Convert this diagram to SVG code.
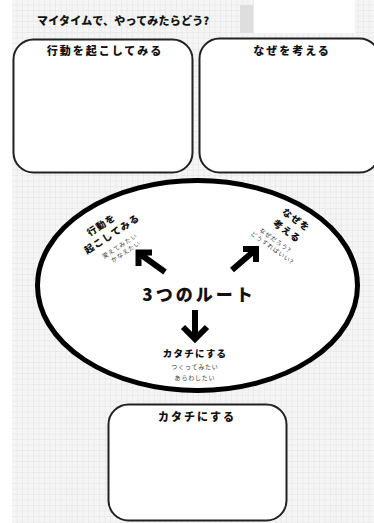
<svg xmlns="http://www.w3.org/2000/svg" width="374" height="523" viewBox="0 0 374 523">
  <defs>
    <pattern id="grid" x="12" y="0" width="5.5" height="5.5" patternUnits="userSpaceOnUse">
      <rect width="5.5" height="5.5" fill="#f5f5f5"/>
      <path d="M5.5 0V5.5M0 5.5H5.5" stroke="#e0e0e0" stroke-width="0.8" fill="none"/>
    </pattern>
    <style>
      .jp { font-family: "Noto Sans CJK JP", "Noto Sans", sans-serif; font-weight: 900; fill: #111; }
      .box { fill: #fff; stroke: #222; stroke-width: 2; }
      .arrow { fill: none; stroke: #000; stroke-width: 6; stroke-linejoin: miter; stroke-linecap: butt; }
      .sub { font-family: "Noto Sans CJK JP", sans-serif; font-weight: 400; fill: #333; font-size: 6px; letter-spacing: 0.8px; }
    </style>
  </defs>
  <rect width="374" height="523" fill="#fff"/>
  <rect x="12" y="0" width="362" height="523" fill="url(#grid)"/>
  <rect x="254" y="0" width="101" height="33" fill="#fff"/>
  <rect x="240" y="5" width="13" height="28" fill="#dedede"/>

  <text class="jp" x="37" y="25" font-size="11" letter-spacing="0.2">マイタイムで、やってみたらどう?</text>

  <g id="node-action">
    <rect class="box" x="13.5" y="39.5" width="179" height="133" rx="20"/>
    <text class="jp" x="105" y="55" font-size="11" text-anchor="middle" letter-spacing="2">行動を起こしてみる</text>
  </g>
  <g id="node-why">
    <rect class="box" x="199.5" y="38.5" width="180" height="134" rx="20"/>
    <text class="jp" x="292" y="55" font-size="11" text-anchor="middle" letter-spacing="2">なぜを考える</text>
  </g>

  <g id="node-routes">
    <ellipse cx="197.5" cy="285.5" rx="160" ry="105" fill="#fff" stroke="#000" stroke-width="5"/>
    <text class="jp" x="199" y="301" font-size="17" text-anchor="middle" letter-spacing="3">3つのルート</text>
    <g transform="translate(112,234) rotate(-33)">
      <text class="jp" x="-4" y="-10" font-size="9.5" text-anchor="middle" letter-spacing="1.2">行動を</text>
      <text class="jp" x="0" y="3.5" font-size="9.5" text-anchor="middle" letter-spacing="1.2">起こしてみる</text>
      <text class="sub" x="0" y="16.5" text-anchor="middle">変えてみたい</text>
      <text class="sub" x="2" y="24.5" text-anchor="middle">かなえたい</text>
    </g>
    <g transform="translate(287,231) rotate(36)">
      <text class="jp" x="1" y="-11" font-size="9.5" text-anchor="middle" letter-spacing="1.2">なぜを</text>
      <text class="jp" x="0" y="3.5" font-size="9.5" text-anchor="middle" letter-spacing="1.2">考える</text>
      <text class="sub" x="-4" y="16.5" text-anchor="middle">なぜだろう?</text>
      <text class="sub" x="-2" y="24.5" text-anchor="middle">どうすればいい?</text>
    </g>
    <text class="jp" x="195" y="357" font-size="9.5" text-anchor="middle" letter-spacing="1.2">カタチにする</text>
    <text class="sub" x="195" y="369" text-anchor="middle">つくってみたい</text>
    <text class="sub" x="195" y="380" text-anchor="middle">あらわしたい</text>
  </g>

  <g id="connectors">
    <path class="arrow" d="M165 272L140 254M152 252.5H138.5V266"/>
    <path class="arrow" d="M232 270L254 251M243 249H256V262"/>
    <path class="arrow" d="M195 310V339M183 327L195 339L207 327"/>
  </g>

  <g id="node-shape">
    <rect class="box" x="108.5" y="404.5" width="178" height="116" rx="20"/>
    <text class="jp" x="197" y="421" font-size="11" text-anchor="middle" letter-spacing="2">カタチにする</text>
  </g>
</svg>
